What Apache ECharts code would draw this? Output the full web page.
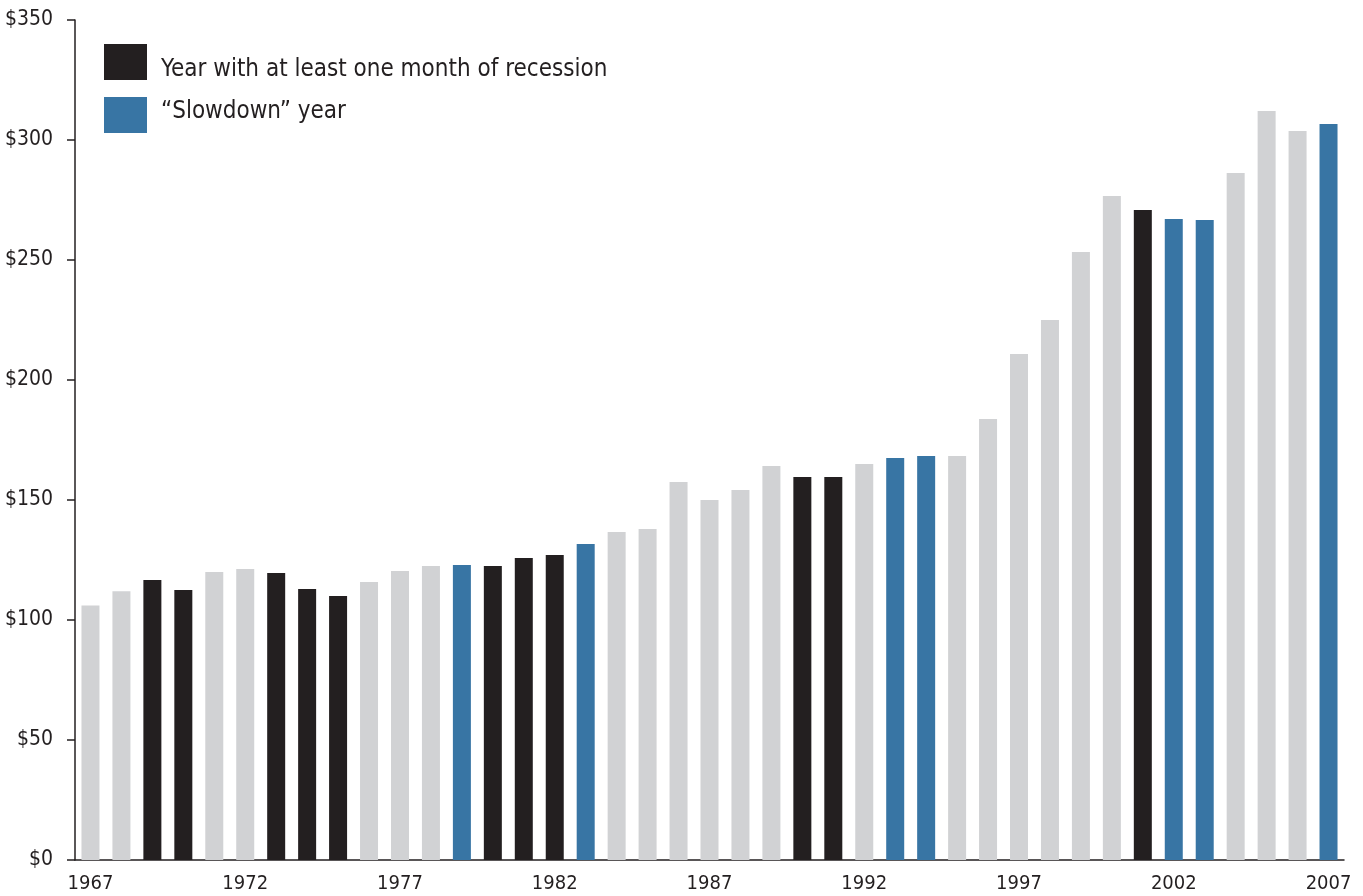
<!DOCTYPE html>
<html>
<head>
<meta charset="utf-8">
<title>Recession and slowdown years</title>
<script src="https://cdn.jsdelivr.net/npm/echarts@6/dist/echarts.min.js"></script>
<style>
  html, body { margin: 0; padding: 0; background: #fff; }
  #chart { width: 1363px; height: 896px; }
</style>
</head>
<body>
<div id="chart"></div>
<script>
const years = []
for (let y = 1967; y <= 2007; y++) years.push(String(y))

// dollar values
const values = [
  106, 112, 116.7, 112.5, 120, 121.3, 119.6, 112.9, 110, 115.8,
  120.4, 122.5, 122.9, 122.5, 125.8, 127.1, 131.7, 136.7, 137.9, 157.5,
  150, 154.2, 164.2, 159.6, 159.6, 165, 167.5, 168.3, 168.3, 183.8,
  210.8, 225, 253.3, 276.7, 270.8, 267.1, 266.7, 286.3, 312.1, 303.8,
  306.7
]

// 0 = normal, 1 = recession, 2 = slowdown
const yearType = [
  0, 0, 1, 1, 0, 0, 1, 1, 1, 0,
  0, 0, 2, 1, 1, 1, 2, 0, 0, 0,
  0, 0, 0, 1, 1, 0, 2, 2, 0, 0,
  0, 0, 0, 0, 1, 2, 2, 0, 0, 0,
  2
]

const yTicks = [0, 50, 100, 150, 200, 250, 300, 350]
const seriesNames = ['Other year', 'Year with at least one month of recession', '\u201cSlowdown\u201d year']
const colors = ['#d1d2d4', '#231f20', '#3875a4']

const font = '"Liberation Sans Narrow", "DejaVu Sans Condensed", sans-serif'
const ink = '#231f20'

const chart = echarts.init(document.getElementById('chart'))

const series = seriesNames.map((name, t) => ({
  name: name,
  type: 'bar',
  stack: 'all',
  barWidth: 18,
  itemStyle: { color: colors[t] },
  data: values.map((v, i) => (yearType[i] === t ? v : '-'))
}))

chart.setOption({
  animation: false,
  textStyle: { fontFamily: font },
  grid: { left: 75, right: 19, top: 20, bottom: 36 },
  legend: {
    data: [seriesNames[1], seriesNames[2]],
    orient: 'vertical',
    left: 104,
    top: 44,
    padding: 0,
    itemWidth: 43,
    itemHeight: 36,
    itemGap: 15,
    icon: 'rect',
    selectedMode: false,
    formatter: name => (name === seriesNames[1] ? '{down|' + name + '}' : '{up|' + name + '}'),
    textStyle: {
      fontFamily: font,
      fontSize: 24,
      color: ink,
      rich: {
        down: { fontFamily: font, fontSize: 24, color: ink, padding: [16, 0, 0, 9] },
        up: { fontFamily: font, fontSize: 24, color: ink, padding: [0, 0, 6, 9] }
      }
    }
  },
  xAxis: {
    type: 'category',
    data: years,
    axisLine: { lineStyle: { color: ink, width: 1.5 } },
    axisTick: { show: false },
    axisLabel: {
      interval: 4,
      margin: 14,
      fontSize: 20,
      color: ink,
      fontFamily: font
    }
  },
  yAxis: {
    type: 'value',
    min: yTicks[0],
    max: yTicks[yTicks.length - 1],
    interval: 50,
    axisLine: { show: true, lineStyle: { color: ink, width: 1.5 } },
    axisTick: { show: true, length: 8, lineStyle: { color: ink, width: 1.5 } },
    splitLine: { show: false },
    axisLabel: {
      margin: 22,
      fontSize: 21,
      color: ink,
      fontFamily: font,
      formatter: v => '$' + v
    }
  },
  series: series
})
</script>
</body>
</html>
